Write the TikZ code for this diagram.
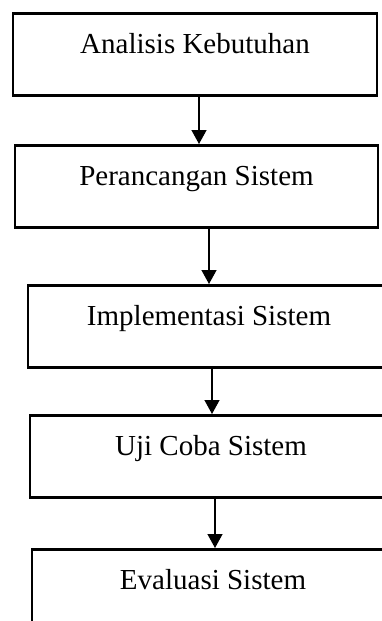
\documentclass[tikz,border=0pt]{standalone}
\usepackage{fontspec}
\setmainfont{Liberation Serif}
\usetikzlibrary{arrows.meta,positioning,calc}

\begin{document}
\begin{tikzpicture}[x=1pt, y=-1pt,
    every node/.style={font=\fontsize{29}{34}\selectfont},
    tahap/.style={draw, line width=2.6pt, inner sep=0pt, anchor=north,
      minimum width=362pt, text height=40pt, text depth=42pt},
    panah/.style={line width=1.3pt, -{Triangle[length=14pt, width=15pt]}}]
    \clip (0,0) rectangle (382,621);
    \node (analisis) [tahap, minimum width=364pt] at (195,12) {Analisis Kebutuhan};
    \node (perancangan) [tahap, minimum width=363pt] at (196.5,144) {Perancangan Sistem};
    \node (implementasi) [tahap] at (209,284) {Implementasi Sistem};
    \node (ujicoba) [tahap] at (211,414) {Uji Coba Sistem};
    \node (evaluasi) [tahap] at (213,548) {Evaluasi Sistem};
    \draw[panah] ([xshift=4pt]analisis.south) -- ([xshift=4pt]analisis.south |- perancangan.north);
    \draw[panah] ([xshift=12.5pt]perancangan.south) -- ([xshift=12.5pt]perancangan.south |- implementasi.north);
    \draw[panah] ([xshift=3pt]implementasi.south) -- ([xshift=3pt]implementasi.south |- ujicoba.north);
    \draw[panah] ([xshift=4pt]ujicoba.south) -- ([xshift=4pt]ujicoba.south |- evaluasi.north);
  \end{tikzpicture}
\end{document}
